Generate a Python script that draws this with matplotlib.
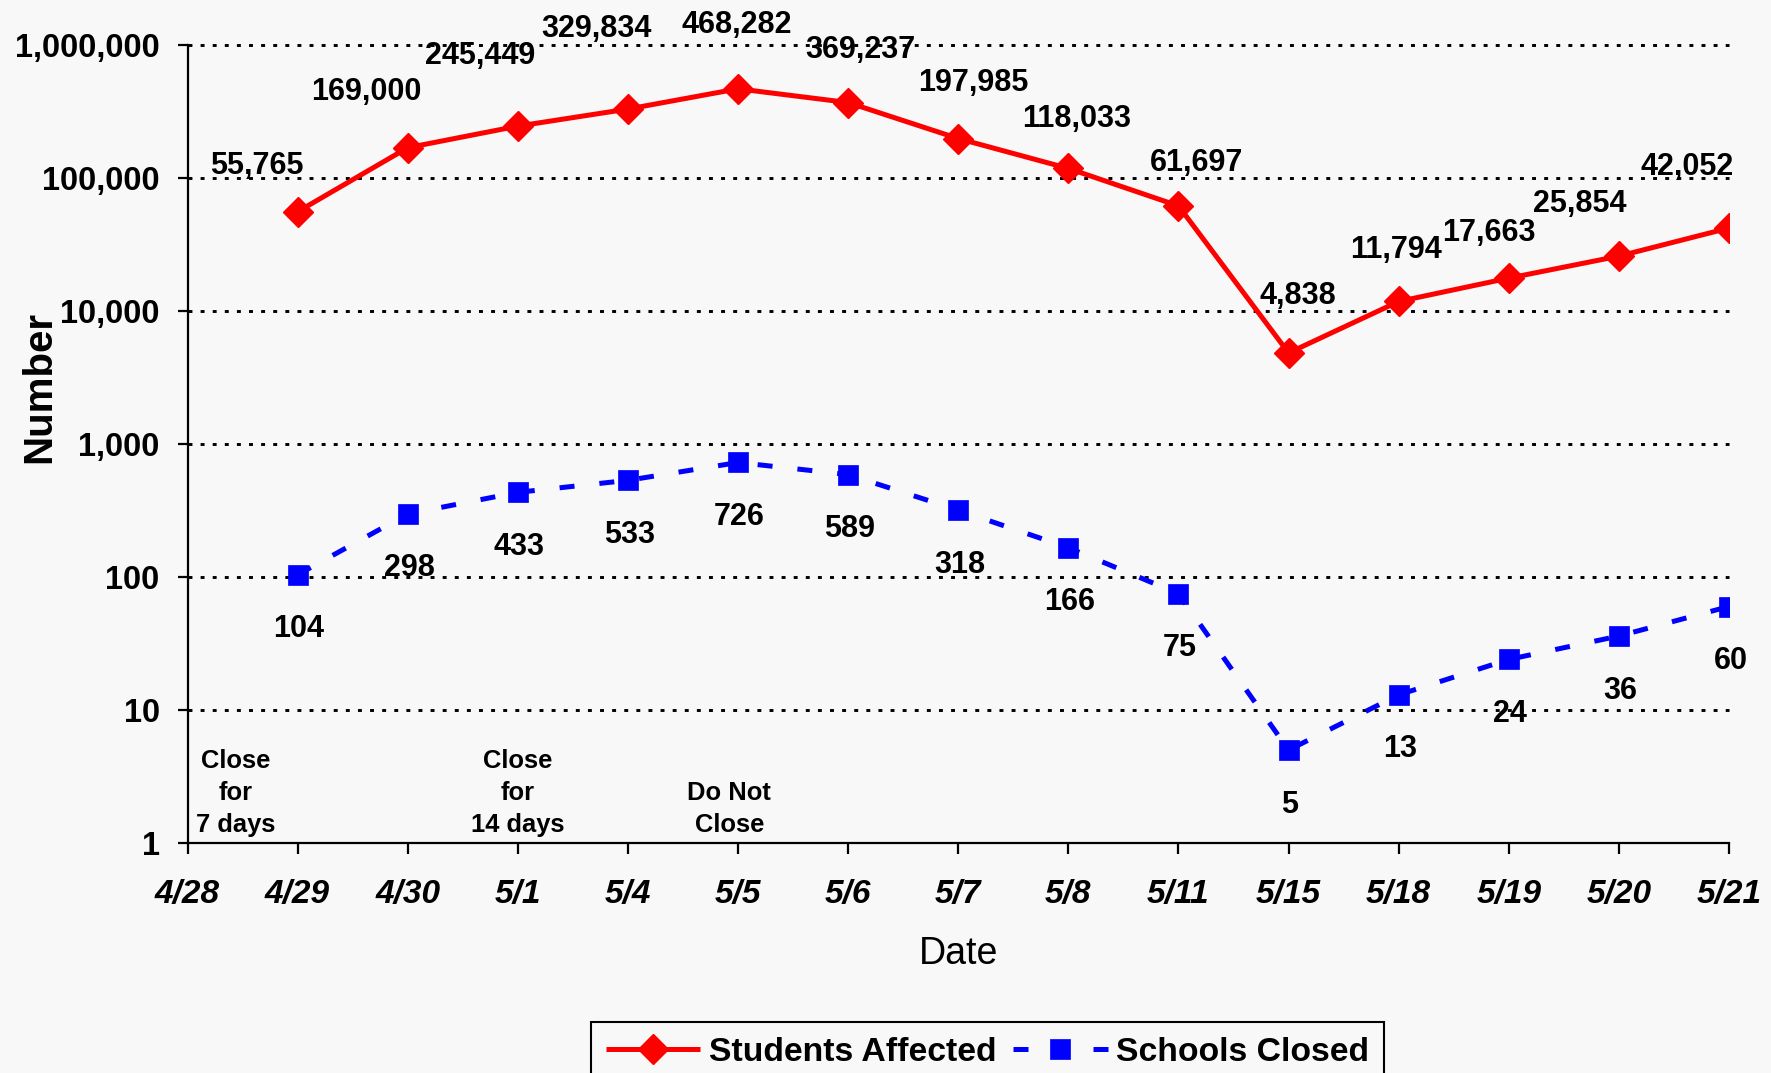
import numpy as np
import matplotlib
matplotlib.use("Agg")
import matplotlib.pyplot as plt
from matplotlib.ticker import FixedLocator, NullLocator, FuncFormatter

plt.rcParams['font.family'] = ['Liberation Sans', 'DejaVu Sans']

# ---------------- data ----------------
dates = ['4/28', '4/29', '4/30', '5/1', '5/4', '5/5', '5/6', '5/7',
         '5/8', '5/11', '5/15', '5/18', '5/19', '5/20', '5/21']
data_dates = ['4/29', '4/30', '5/1', '5/4', '5/5', '5/6', '5/7',
              '5/8', '5/11', '5/15', '5/18', '5/19', '5/20', '5/21']
students = [55765, 169000, 245449, 329834, 468282, 369237, 197985,
            118033, 61697, 4838, 11794, 17663, 25854, 42052]
schools = [104, 298, 433, 533, 726, 589, 318, 166, 75, 5, 13, 24, 36, 60]
y_ticks = [1, 10, 100, 1000, 10000, 100000, 1000000]
notes = ['Close\nfor\n7 days', 'Close\nfor\n14 days', 'Do Not\nClose']
series_names = ['Students Affected', 'Schools Closed']

# ---------------- layout (label offsets in points) ----------------
student_offsets = [(-29, 27), (-30, 34), (-27, 45), (-23, 52), (-1, 40.5),
                   (9, 32.4), (11, 34), (6, 30), (13, 25), (6.5, 35.5),
                   (-1.6, 31), (-14.6, 26.4), (-28.5, 32), (-30, 38)]
school_offset = (1, -45)
note_x = [0.44, 3.0, 4.92]          # in category units
note_y = [0.008, 0.008, 0.008]      # bottom, axes fraction

BG = '#f8f8f8'
W, H = 1771, 1073
fig = plt.figure(figsize=(W / 100, H / 100), dpi=100, facecolor=BG)
ax = fig.add_axes([187.5 / W, 1 - 843 / H, (1729 - 187.5) / W, (843 - 45) / H])
ax.set_facecolor(BG)

xpos = [dates.index(d) for d in data_dates]

red, = ax.plot(xpos, students, color='#ff0000', lw=3.6, marker='D', ms=15,
               mec='#ff0000', mew=1.0, zorder=4, solid_capstyle='butt')
blue, = ax.plot(xpos, schools, color='#0000ff', lw=3.6, marker='s', ms=15,
                mec='#0000ff', mew=0.5, zorder=3,
                linestyle=(0, (3.0, 5.0)), dash_capstyle='butt')

ax.set_yscale('log')
ax.set_ylim(1, 1e6)
ax.set_xlim(0, len(dates) - 1)
ax.yaxis.set_major_locator(FixedLocator(y_ticks))
ax.yaxis.set_minor_locator(NullLocator())
ax.yaxis.set_major_formatter(FuncFormatter(lambda v, p: f"{int(round(v)):,}"))
ax.set_xticks(range(len(dates)))
ax.set_xticklabels(dates)

for s in ['top', 'right']:
    ax.spines[s].set_visible(False)
for s in ['left', 'bottom']:
    ax.spines[s].set_linewidth(1.6)
    ax.spines[s].set_color('black')

ax.tick_params(axis='y', direction='out', length=7, width=1.6, pad=13,
               labelsize=23.5)
ax.tick_params(axis='x', direction='out', length=8, width=1.6, pad=18,
               labelsize=24)
for lab in ax.get_yticklabels():
    lab.set_fontweight('bold')
for lab in ax.get_xticklabels():
    lab.set_fontweight('bold')
    lab.set_fontstyle('italic')

ax.yaxis.grid(True, color='black', lw=2.1, linestyle=(0, (1.35, 2.8)), zorder=1)
ax.set_axisbelow(True)
for gl in ax.get_ygridlines():
    gl.set_clip_on(False)
ax.get_ygridlines()[0].set_visible(False)

# data labels
for x, v, off in zip(xpos, students, student_offsets):
    ax.annotate(f"{v:,}", (x, v), xytext=off, textcoords='offset points',
                ha='center', va='baseline', fontsize=22, fontweight='bold',
                zorder=6)
for x, v in zip(xpos, schools):
    ax.annotate(f"{v:,}", (x, v), xytext=school_offset, textcoords='offset points',
                ha='center', va='baseline', fontsize=22, fontweight='bold',
                zorder=6)

# notes
for t, nx, ny in zip(notes, note_x, note_y):
    ax.text(nx, ny, t, transform=ax.get_xaxis_transform(), ha='center',
            va='bottom', fontsize=18.4, fontweight='bold', linespacing=1.4,
            multialignment='center')

ax.set_xlabel('Date', fontsize=27, labelpad=19)
ax.set_ylabel('Number', fontsize=29, fontweight='bold')
ax.yaxis.set_label_coords((58 - 187.5) / (1729 - 187.5), 0.571)

leg = fig.legend([red, blue], series_names, ncol=2, loc='upper left',
                 bbox_to_anchor=(590.6 / W, 1 - 1022 / H),
                 bbox_transform=fig.transFigure, borderaxespad=0,
                 prop={'size': 24.3, 'weight': 'bold'}, frameon=True,
                 fancybox=False, framealpha=1, facecolor=BG, edgecolor='black',
                 handlelength=2.8, handletextpad=0.25, columnspacing=0.5,
                 borderpad=0.45)
leg.get_frame().set_linewidth(1.5)

fig.savefig('out.png', dpi=100, facecolor=BG)
